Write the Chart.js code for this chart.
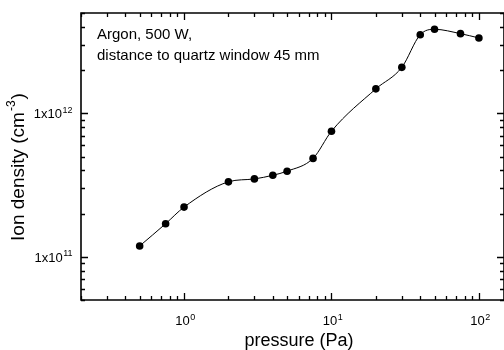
<!DOCTYPE html>
<html>
<head>
<meta charset="utf-8">
<script src="https://cdn.jsdelivr.net/npm/chart.js@4"></script>
<style>
  html, body { margin: 0; padding: 0; background: #fff; }
  #chart { display: block; }
</style>
</head>
<body>
<canvas id="chart" width="504" height="350"></canvas>
<script>
// pressure (Pa) and ion density (cm^-3)
const pressure = [0.5, 0.75, 1, 2, 3, 4, 5, 7.5, 10, 20, 30, 40, 50, 75, 100];
const density = [1.19e11, 1.70e11, 2.22e11, 3.33e11, 3.49e11, 3.70e11, 3.95e11, 4.85e11,
                 7.5e11, 1.48e12, 2.09e12, 3.53e12, 3.85e12, 3.59e12, 3.35e12];

// axis ticks
const xMajor = [1, 10, 100];
const xMajorExp = ['0', '1', '2'];
const xMinor = [0.2, 0.3, 0.4, 0.5, 0.6, 0.7, 0.8, 0.9, 2, 3, 4, 5, 6, 7, 8, 9, 20, 30, 40, 50, 60, 70, 80, 90];
const yMajor = [1e11, 1e12];
const yMajorExp = ['11', '12'];
const yMinor = [5e10, 6e10, 7e10, 8e10, 9e10, 2e11, 3e11, 4e11, 5e11, 6e11, 7e11, 8e11, 9e11, 2e12, 3e12, 4e12, 5e12];

const annotation = ['Argon, 500 W,', 'distance to quartz window 45 mm'];

const FONT = '"Liberation Sans", Arial, sans-serif';

// text with a raised exponent
function supText(ctx, base, sup, x, y, size, supSize, align) {
  ctx.font = size + 'px ' + FONT;
  const wb = ctx.measureText(base).width;
  ctx.font = supSize + 'px ' + FONT;
  const ws = ctx.measureText(sup).width;
  let x0 = x;
  if (align === 'center') x0 = x - (wb + ws) / 2;
  if (align === 'right') x0 = x - wb - ws;
  ctx.textAlign = 'left';
  ctx.textBaseline = 'alphabetic';
  ctx.font = size + 'px ' + FONT;
  ctx.fillText(base, x0, y);
  ctx.font = supSize + 'px ' + FONT;
  ctx.fillText(sup, x0 + wb + 0.5, y - size * 0.42);
}

const framePlugin = {
  id: 'frame',
  afterDraw(chart) {
    const ctx = chart.ctx;
    const a = chart.chartArea;
    const xs = chart.scales.x, ys = chart.scales.y;
    ctx.save();
    ctx.strokeStyle = '#000';
    ctx.fillStyle = '#000';

    // ticks, pointing inward on all four sides
    ctx.lineWidth = 1.3;
    const xt = (v, len) => {
      const px = Math.round(xs.getPixelForValue(v)) + 0.5;
      ctx.beginPath();
      ctx.moveTo(px, a.bottom); ctx.lineTo(px, a.bottom - len);
      ctx.moveTo(px, a.top); ctx.lineTo(px, a.top + len);
      ctx.stroke();
    };
    const yt = (v, len) => {
      const py = Math.round(ys.getPixelForValue(v)) + 0.5;
      ctx.beginPath();
      ctx.moveTo(a.left, py); ctx.lineTo(a.left + len, py);
      ctx.moveTo(a.right, py); ctx.lineTo(a.right - len, py);
      ctx.stroke();
    };
    xMinor.forEach(v => xt(v, 4));
    xMajor.forEach(v => xt(v, 7));
    yMinor.forEach(v => yt(v, 4));
    yMajor.forEach(v => yt(v, 7));

    // box
    ctx.lineWidth = 1.6;
    ctx.beginPath();
    ctx.moveTo(a.right, a.top);
    ctx.lineTo(a.left, a.top);
    ctx.lineTo(a.left, a.bottom);
    ctx.lineTo(a.right, a.bottom);
    ctx.lineTo(a.right, a.top);
    ctx.stroke();

    // tick labels
    xMajor.forEach((v, i) => {
      supText(ctx, '10', xMajorExp[i], xs.getPixelForValue(v) + 1, 325, 13, 9, 'center');
    });
    yMajor.forEach((v, i) => {
      supText(ctx, '1x10', yMajorExp[i], 72, ys.getPixelForValue(v) + 5, 13, 9, 'right');
    });

    // axis titles
    ctx.font = '18px ' + FONT;
    ctx.textAlign = 'center';
    ctx.textBaseline = 'alphabetic';
    ctx.fillText('pressure (Pa)', 299, 346);

    ctx.save();
    ctx.translate(24, 167);
    ctx.rotate(-Math.PI / 2);
    ctx.font = '19px ' + FONT;
    const w1 = ctx.measureText('Ion density (cm').width;
    ctx.font = '12px ' + FONT;
    const w2 = ctx.measureText('-3').width;
    ctx.font = '19px ' + FONT;
    const w3 = ctx.measureText(')').width;
    const x0 = -(w1 + w2 + w3 + 2) / 2;
    ctx.textAlign = 'left';
    ctx.fillText('Ion density (cm', x0, 0);
    ctx.font = '12px ' + FONT;
    ctx.fillText('-3', x0 + w1 + 1, -9);
    ctx.font = '19px ' + FONT;
    ctx.fillText(')', x0 + w1 + w2 + 2, 0);
    ctx.restore();

    // annotation
    ctx.font = '15px ' + FONT;
    ctx.textAlign = 'left';
    annotation.forEach((t, i) => ctx.fillText(t, 97, 38.5 + i * 21));

    ctx.restore();
  }
};

new Chart(document.getElementById('chart'), {
  type: 'line',
  data: {
    datasets: [{
      data: pressure.map((p, i) => ({ x: p, y: density[i] })),
      borderColor: '#000',
      borderWidth: 1,
      backgroundColor: '#000',
      pointRadius: 3.8,
      pointBorderWidth: 0,
      pointBackgroundColor: '#000',
      cubicInterpolationMode: 'monotone',
      fill: false
    }]
  },
  options: {
    responsive: false,
    devicePixelRatio: 1,
    animation: false,
    layout: { autoPadding: false, padding: { left: 81, top: 13, right: 0, bottom: 50 } },
    plugins: { legend: { display: false }, tooltip: { enabled: false } },
    scales: {
      x: { type: 'logarithmic', min: 0.2, max: 148, bounds: 'data', display: false },
      y: { type: 'logarithmic', min: 5e10, max: 5e12, bounds: 'data', display: false }
    }
  },
  plugins: [framePlugin]
});
</script>
</body>
</html>
